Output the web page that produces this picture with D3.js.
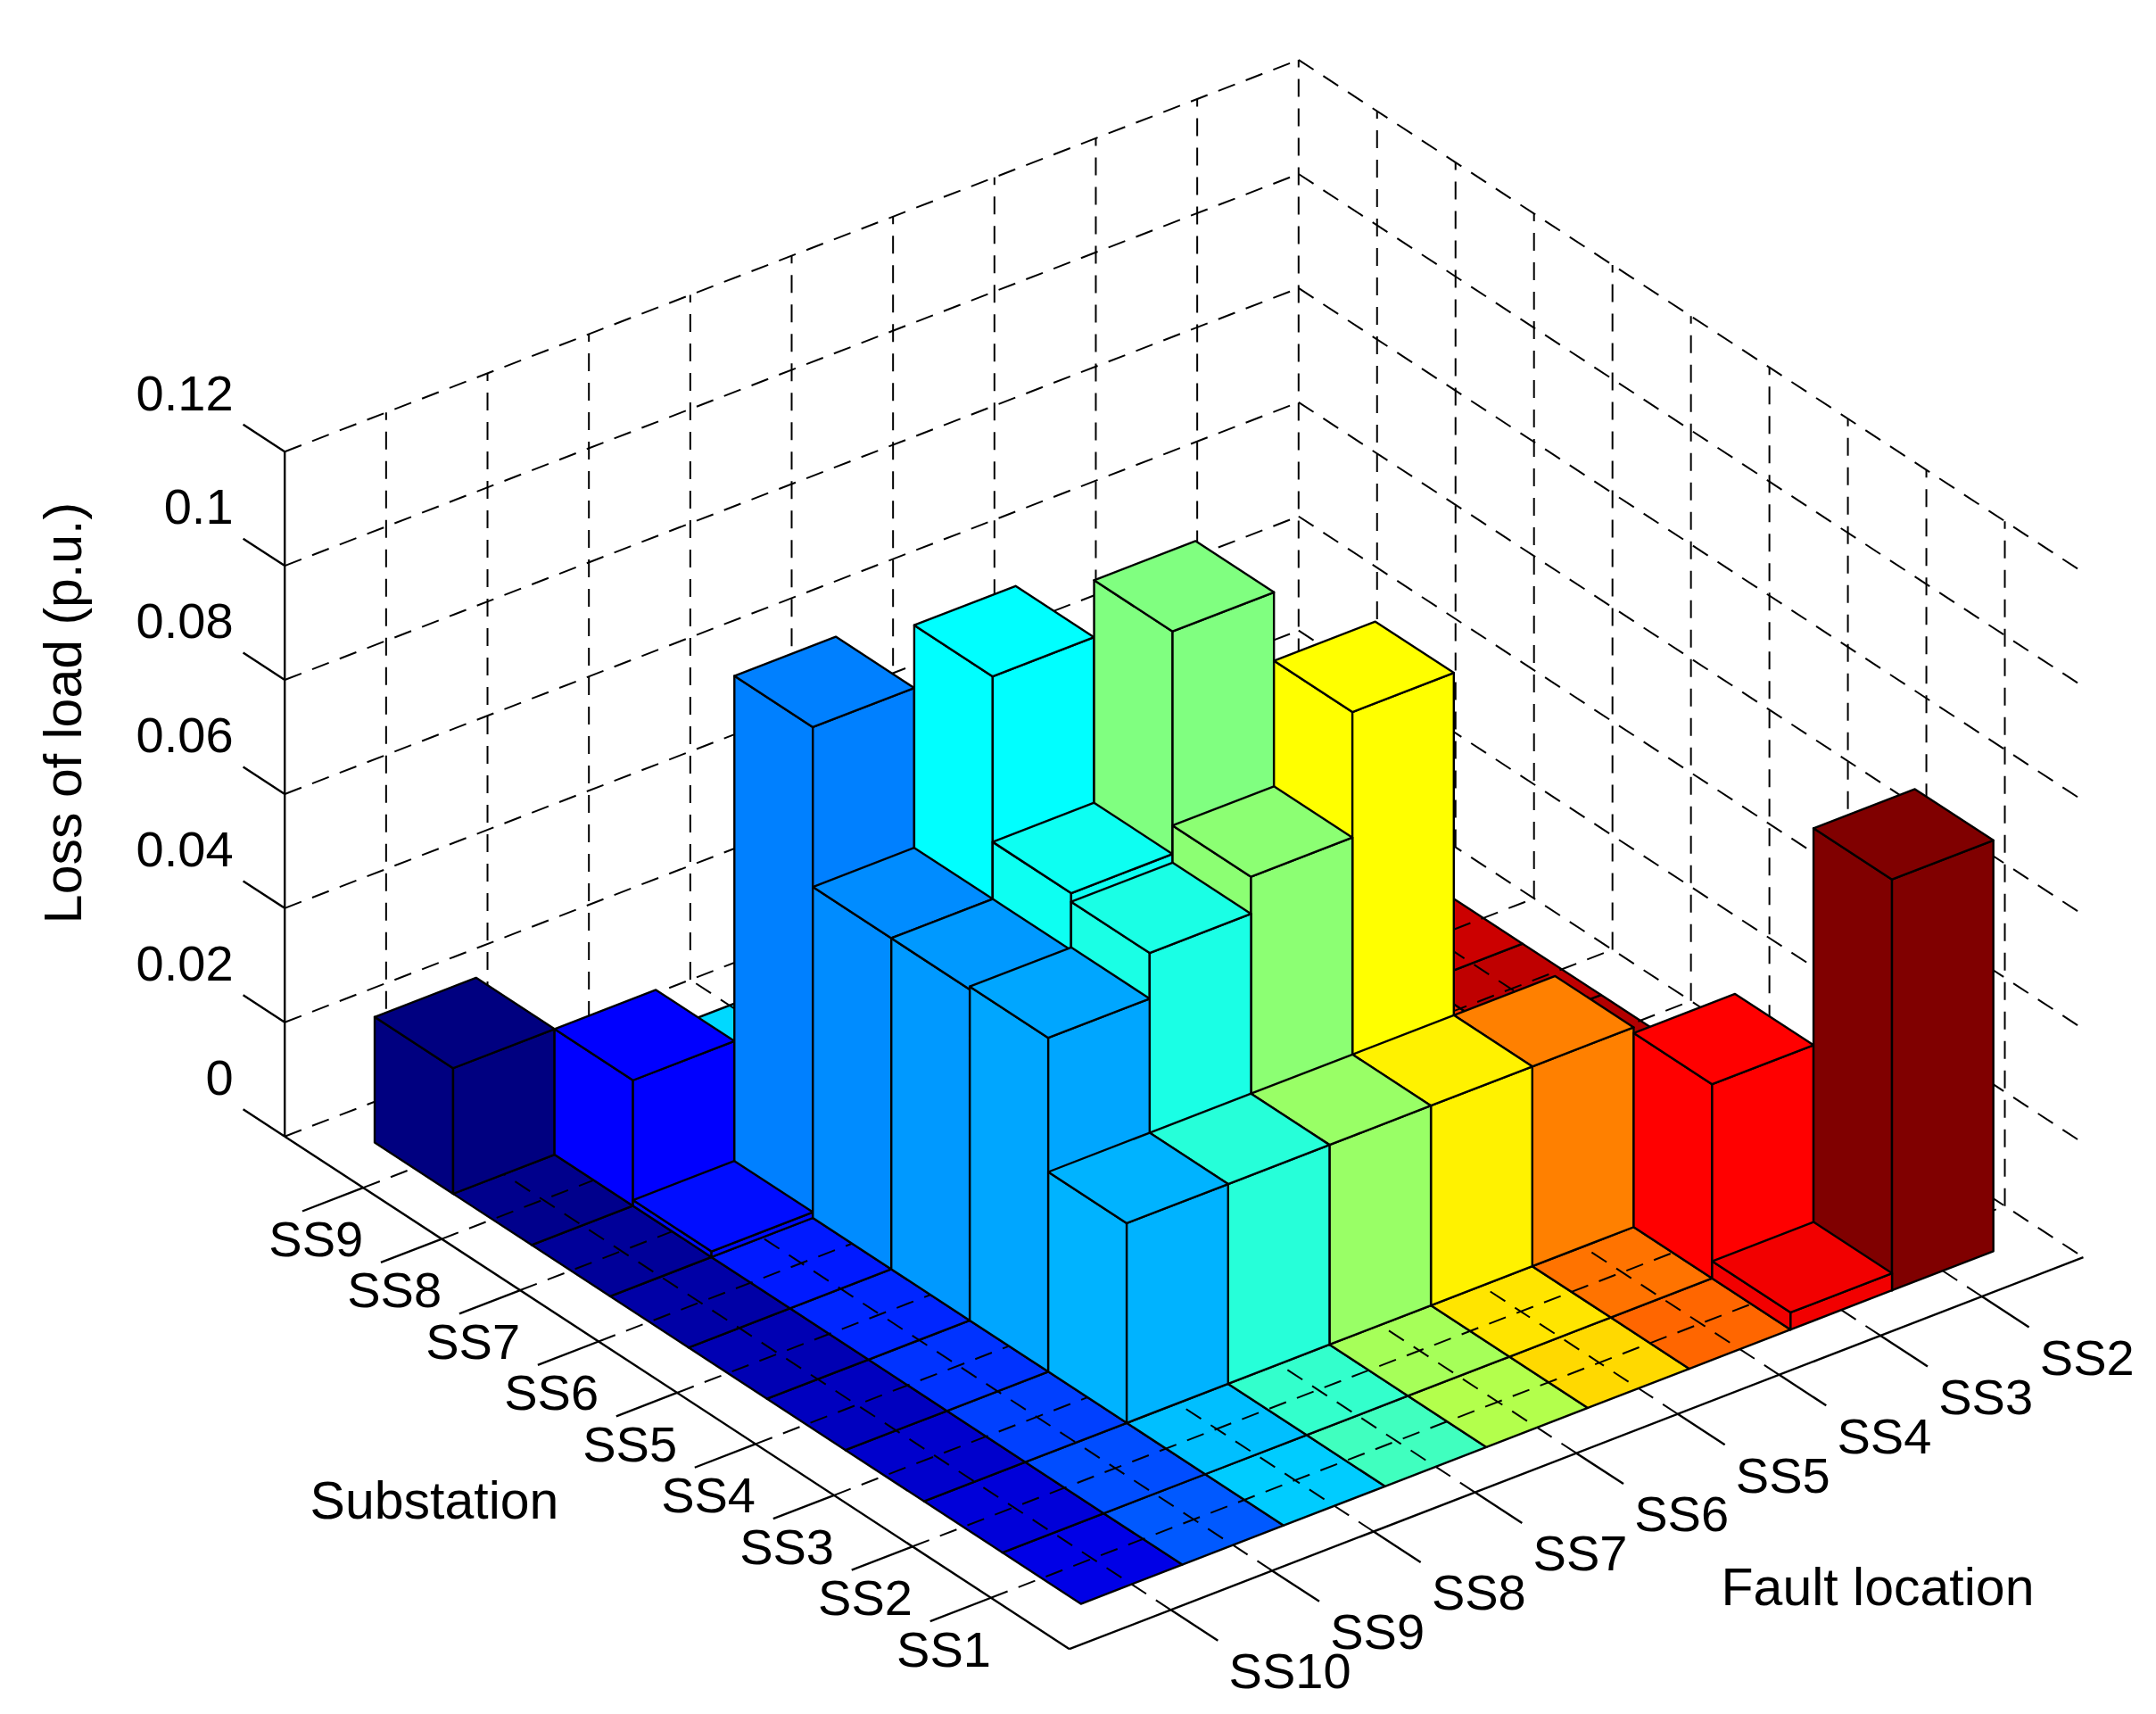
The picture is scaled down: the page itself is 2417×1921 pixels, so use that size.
<!DOCTYPE html>
<html>
<head>
<meta charset="utf-8">
<script src="https://cdn.jsdelivr.net/npm/d3@7"></script>
<style>
  body { margin: 0; background: #fff; }
  text { font-family: "Liberation Sans", Arial, sans-serif; fill: #000; }
</style>
</head>
<body>
<svg id="chart" width="2417" height="1921"></svg>
<script>
// categories
const substations = ["SS1", "SS2", "SS3", "SS4", "SS5", "SS6", "SS7", "SS8", "SS9"];
const faults = ["SS10", "SS9", "SS8", "SS7", "SS6", "SS5", "SS4", "SS3", "SS2"];
const zTicks = [0, 0.02, 0.04, 0.06, 0.08, 0.1, 0.12];
const zTickLabels = ["0", "0.02", "0.04", "0.06", "0.08", "0.1", "0.12"];

// loss of load per substation (SS1..SS9) for each fault location
const faultSS10 = [0, 0, 0, 0, 0, 0, 0, 0, 0.022];
const faultSS9 = [0, 0, 0, 0, 0, 0, 0.001, 0.022, 0];
const faultSS8 = [0, 0, 0.035, 0.0585, 0.058, 0.058, 0.086, 0, 0];
const faultSS7 = [0, 0, 0.035, 0.0665, 0.068, 0.097, 0, 0, 0];
const faultSS6 = [0, 0, 0.035, 0.073, 0.107, 0, 0, 0, 0];
const faultSS5 = [0, 0, 0.035, 0.095, 0, 0, 0, 0, 0];
const faultSS4 = [0, 0, 0.035, 0, 0, 0, 0, 0, 0];
const faultSS3 = [0.003, 0.034, 0, 0, 0, 0, 0, 0, 0];
const faultSS2 = [0.072, 0, 0, 0, 0, 0, 0, 0, 0];
const series = [faultSS10, faultSS9, faultSS8, faultSS7, faultSS6, faultSS5, faultSS4, faultSS3, faultSS2];

const svg = d3.select("#chart");

// oblique projection of the 3-D box
const origin = { x: 1198.9, y: 1848.2 };
const uX = d3.scaleLinear().domain([0, 10]).range([0, -879.7]);
const uY = d3.scaleLinear().domain([0, 10]).range([0, -574.5]);
const vX = d3.scaleLinear().domain([0, 10]).range([0, 1136.6]);
const vY = d3.scaleLinear().domain([0, 10]).range([0, -439.1]);
const zS = d3.scaleLinear().domain([0, 0.12]).range([0, 767.5]);

const proj = (u, v, z) => [origin.x + uX(u) + vX(v), origin.y + uY(u) + vY(v) - zS(z)];
const line = d3.line();
const poly = pts => line(pts.map(p => proj(...p))) + "Z";

// jet colormap
const clamp = x => Math.max(0, Math.min(1, x));
const jet = t => d3.rgb(255 * clamp(1.5 - Math.abs(4 * t - 3)),
                        255 * clamp(1.5 - Math.abs(4 * t - 2)),
                        255 * clamp(1.5 - Math.abs(4 * t - 1)));
const barColor = (u, v) => jet(clamp((v - 1) / 8 + (10 - v - u) / 80));

const dash = "20,13";
const gridG = svg.append("g").attr("stroke", "#000").attr("stroke-width", 2).attr("stroke-dasharray", dash).attr("fill", "none");
const seg = (a, b) => gridG.append("path").attr("d", line([proj(...a), proj(...b)]));

// back walls grid
const zMax = zTicks[zTicks.length - 1];
zTicks.forEach(z => { seg([10, 0, z], [10, 10, z]); seg([10, 10, z], [0, 10, z]); });
d3.range(1, 11).forEach(k => { seg([10, k, 0], [10, k, zMax]); });
d3.range(1, 10).forEach(k => { seg([k, 10, 0], [k, 10, zMax]); });

// bars
const bars = [];
series.forEach((vals, fi) => vals.forEach((h, si) => bars.push({ u: si + 1, v: fi + 1, h })));

const barG = svg.append("g").attr("stroke", "#000").attr("stroke-width", 2.4).attr("stroke-linejoin", "round");

// flat tiles first
bars.filter(b => b.h === 0).forEach(b => {
  const u0 = b.u - 0.5, u1 = b.u + 0.5, v0 = b.v - 0.5, v1 = b.v + 0.5;
  barG.append("path").attr("d", poly([[u0, v0, 0], [u1, v0, 0], [u1, v1, 0], [u0, v1, 0]])).attr("fill", barColor(b.u, b.v));
});

// floor grid over the tiles
const floorG = svg.append("g").attr("stroke", "#000").attr("stroke-width", 2).attr("stroke-dasharray", dash);
d3.range(1, 10).forEach(k => {
  floorG.append("path").attr("d", line([proj(k, 0, 0), proj(k, 10, 0)]));
  floorG.append("path").attr("d", line([proj(0, k, 0), proj(10, k, 0)]));
});

const barG2 = svg.append("g").attr("stroke", "#000").attr("stroke-width", 2.4).attr("stroke-linejoin", "round");
bars.filter(b => b.h > 0).sort((a, b) => (b.u + b.v) - (a.u + a.v)).forEach(b => {
  const u0 = b.u - 0.5, u1 = b.u + 0.5, v0 = b.v - 0.5, v1 = b.v + 0.5, h = b.h;
  const c = barColor(b.u, b.v);
  barG2.append("path").attr("d", poly([[u0, v0, 0], [u1, v0, 0], [u1, v0, h], [u0, v0, h]])).attr("fill", c);
  barG2.append("path").attr("d", poly([[u0, v0, 0], [u0, v1, 0], [u0, v1, h], [u0, v0, h]])).attr("fill", c);
  barG2.append("path").attr("d", poly([[u0, v0, h], [u1, v0, h], [u1, v1, h], [u0, v1, h]])).attr("fill", c);
});

// axes
const axG = svg.append("g").attr("stroke", "#000").attr("stroke-width", 2.4).attr("fill", "none");
const aseg = (a, b) => axG.append("path").attr("d", line([proj(...a), proj(...b)]));
aseg([10, 0, 0], [10, 0, zMax]);
aseg([0, 0, 0], [10, 0, 0]);
aseg([0, 0, 0], [0, 10, 0]);

const fs = 56;
substations.forEach((s, i) => {
  const u = i + 1;
  aseg([u, 0, 0], [u, -0.6, 0]);
  const p = proj(u, 0, 0);
  svg.append("text").attr("x", p[0]).attr("y", p[1] + 62).attr("text-anchor", "end")
    .attr("dominant-baseline", "middle").attr("font-size", fs).text(s);
});
faults.forEach((s, i) => {
  const v = i + 1;
  aseg([0, v, 0], [-0.6, v, 0]);
  const p = proj(0, v, 0);
  svg.append("text").attr("x", p[0] + 65).attr("y", p[1] + 73)
    .attr("dominant-baseline", "middle").attr("font-size", fs).text(s);
});
zTicks.forEach((z, i) => {
  aseg([10, 0, z], [10.53, 0, z]);
  const p = proj(10.53, 0, z);
  svg.append("text").attr("x", p[0] - 11).attr("y", p[1] - 31).attr("text-anchor", "end")
    .attr("dominant-baseline", "middle").attr("font-size", fs).text(zTickLabels[i]);
});

svg.append("text").attr("x", 487).attr("y", 1686).attr("text-anchor", "middle")
  .attr("dominant-baseline", "middle").attr("font-size", 59).text("Substation");
svg.append("text").attr("x", 2105).attr("y", 1783).attr("text-anchor", "middle")
  .attr("dominant-baseline", "middle").attr("font-size", 59).text("Fault location");
svg.append("text").attr("transform", "translate(75,799) rotate(-90)").attr("text-anchor", "middle")
  .attr("dominant-baseline", "middle").attr("font-size", 59).text("Loss of load (p.u.)");
</script>
</body>
</html>
